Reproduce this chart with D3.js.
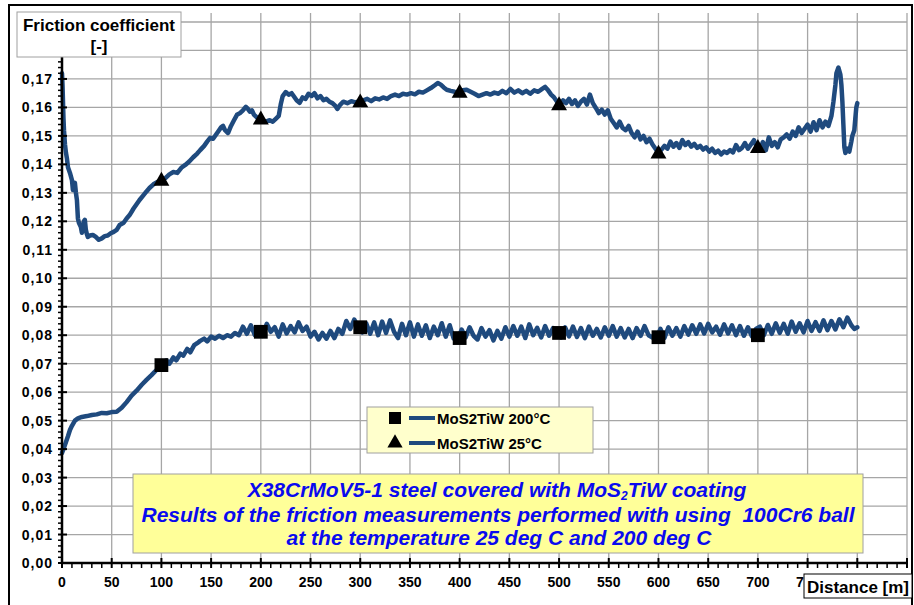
<!DOCTYPE html>
<html><head><meta charset="utf-8">
<script src="https://cdn.jsdelivr.net/npm/d3@7/dist/d3.min.js"></script>
<style>html,body{margin:0;padding:0;background:#fff;}svg{display:block;}</style>
</head><body><svg id="c" width="914" height="605"></svg>
<script>
// ---- data ----
const xTicks = [0,50,100,150,200,250,300,350,400,450,500,550,600,650,700,750,800,850];
const xTickLabels = [0,50,100,150,200,250,300,350,400,450,500,550,600,650,700,750];
const yTicks = [0,0.01,0.02,0.03,0.04,0.05,0.06,0.07,0.08,0.09,0.10,0.11,0.12,0.13,0.14,0.15,0.16,0.17,0.18,0.19];
const yTickLabels = [0,0.01,0.02,0.03,0.04,0.05,0.06,0.07,0.08,0.09,0.10,0.11,0.12,0.13,0.14,0.15,0.16,0.17];
const seriesNames = ["MoS2TiW 200°C","MoS2TiW 25°C"];
const markerDist = [100,200,300,400,500,600,700];
const marker200 = [0.0695,0.0812,0.0828,0.0790,0.0808,0.0793,0.0800];
const marker25 = [0.1345,0.1560,0.1620,0.1654,0.1610,0.1440,0.1460];
const dist200 = [0,2,4,6,8,10,13,16,20,25,30,35,40,45,50,55,60,65,70,75,80,85,90,95,100,105,108,112,115,119,122,126,129,133,136,139,143,146,150,154,158,162,166,170,174,178,182,186,190,194,198,202,206,210,214,218,222,226,230,234,238,242,246,250,254,258,262,266,270,274,278,282,286,290,294,298,302,306,310,314,318,322,326,330,334,338,342,346,350,354,358,362,366,370,374,378,382,386,390,394,398,402,406,410,414,418,422,426,430,434,438,442,446,450,454,458,462,466,470,474,478,482,486,490,494,498,502,506,510,514,518,522,526,530,534,538,542,546,550,554,558,562,566,570,574,578,582,586,590,594,598,602,606,610,614,618,622,626,630,634,638,642,646,650,654,658,662,666,670,674,678,682,686,690,694,698,702,706,710,714,718,722,726,730,734,738,742,746,750,754,758,762,766,770,774,778,782,786,790,794,797,800];
const fric200 = [0.0386,0.0405,0.0425,0.0445,0.0467,0.0482,0.0500,0.0508,0.0513,0.0516,0.0520,0.0522,0.0527,0.0526,0.0530,0.0531,0.0545,0.0565,0.0588,0.0605,0.0625,0.0643,0.0660,0.0678,0.0697,0.0712,0.0700,0.0722,0.0712,0.0735,0.0728,0.0752,0.0740,0.0765,0.0772,0.0780,0.0788,0.0778,0.0795,0.0788,0.0798,0.0790,0.0800,0.0795,0.0808,0.0800,
  0.0830,0.0805,0.0835,0.0800,0.0820,0.0798,0.0840,0.0812,0.0828,0.0795,0.0838,0.0806,0.0832,0.0810,0.0845,0.0815,0.0830,0.0795,0.0812,0.0785,0.0808,0.0788,0.0815,0.0790,0.0822,0.0805,0.0850,0.0822,0.0855,0.0828,0.0810,0.0842,0.0805,0.0845,0.0800,0.0848,0.0808,0.0852,0.0812,0.0790,0.0840,0.0800,0.0845,0.0795,0.0838,0.0798,0.0835,0.0790,0.0830,0.0800,0.0842,0.0795,0.0835,0.0788,0.0785,0.0820,0.0792,0.0828,0.0798,0.0785,0.0825,0.0795,0.0818,0.0782,0.0815,0.0788,0.0828,0.0795,0.0832,0.0798,0.0830,0.0790,0.0838,0.0800,0.0826,0.0792,0.0832,0.0798,0.0825,0.0800,0.0792,0.0828,0.0796,0.0830,0.0794,0.0825,0.0790,0.0830,0.0798,0.0822,0.0792,0.0828,0.0798,0.0832,0.0795,0.0825,0.0792,0.0822,0.0790,0.0825,0.0798,0.0832,0.0800,0.0792,0.0788,0.0822,0.0790,0.0828,0.0798,0.0825,0.0795,0.0832,0.0802,0.0835,0.0805,0.0838,0.0806,0.0840,0.0810,0.0830,0.0802,0.0838,0.0806,0.0835,0.0800,0.0832,0.0798,0.0828,0.0796,0.0822,0.0830,0.0800,0.0836,0.0805,0.0842,0.0808,0.0840,0.0805,0.0848,0.0812,0.0842,0.0810,0.0850,0.0815,0.0846,0.0815,0.0852,0.0818,0.0850,0.0820,0.0856,0.0828,0.0862,0.0835,0.0822,0.0828];
const dist25 = [0,0.5,1,1.5,2,3,4,5,6,8,10,11,12,13,14,15,16,17,19,20,21,22,23,24,25,26,28,31,34,37,40,43,46,49,52,55,58,62,65,68,72,75,78,82,85,88,92,96,100,104,108,112,116,120,124,128,132,136,139,143,146,149,152,155,158,160,162,164,167,170,173,176,179,182,185,187,189,191,193,196,199,202,205,209,212,215,218,220,222,225,228,231,233,236,239,242,245,248,251,254,257,260,263,266,269,272,275,277,280,283,287,291,295,299,303,307,311,315,319,323,327,331,335,339,343,347,351,355,359,363,367,371,375,378,381,384,387,391,395,399,403,407,411,415,419,423,427,431,435,439,443,447,451,455,459,463,467,471,475,479,483,486,489,492,495,498,501,504,507,510,513,516,519,522,525,528,531,534,537,540,543,546,549,552,555,558,561,564,567,570,573,576,579,582,585,588,591,594,597,600,603,606,609,612,615,618,621,624,627,630,633,636,639,642,645,648,651,654,657,660,663,666,669,672,675,678,681,684,687,690,693,696,699,702,705,708,711,714,717,720,723,726,729,732,735,738,741,744,747,750,753,756,759,762,765,768,771,774,776,778,779,781,783,784,785,786,787,788,790,792,794,795,797,798,799,800];
const fric25 = [0.1720,0.1680,0.1620,0.1560,0.1520,0.1470,0.1440,0.1420,0.1390,0.1370,0.1345,0.1310,0.1330,0.1335,0.1300,0.1275,0.1210,0.1195,0.1180,0.1160,0.1175,0.1200,0.1205,0.1170,0.1155,0.1145,0.1150,0.1152,0.1145,0.1135,0.1140,0.1148,0.1150,0.1158,0.1163,0.1170,0.1187,0.1195,0.1210,0.1222,0.1245,0.1260,0.1275,0.1292,0.1305,0.1317,0.1330,0.1338,0.1345,0.1352,0.1365,0.1373,0.1370,0.1388,0.1398,0.1410,0.1425,0.1438,0.1450,0.1465,0.1480,0.1493,0.1490,0.1505,0.1520,0.1530,0.1535,0.1520,0.1510,0.1535,0.1555,0.1574,0.1580,0.1590,0.1602,0.1595,0.1585,0.1590,0.1575,0.1565,0.1560,0.1555,0.1550,0.1555,0.1550,0.1560,0.1570,0.1610,0.1640,0.1654,0.1645,0.1650,0.1640,0.1625,0.1616,0.1635,0.1630,0.1648,0.1640,0.1650,0.1632,0.1640,0.1625,0.1630,0.1620,0.1615,0.1605,0.1595,0.1610,0.1620,0.1615,0.1622,0.1618,0.1620,0.1625,0.1630,0.1622,0.1632,0.1628,0.1635,0.1630,0.1640,0.1645,0.1640,0.1648,0.1645,0.1650,0.1646,0.1655,0.1652,0.1660,0.1668,0.1678,0.1686,0.1680,0.1670,0.1662,0.1658,0.1655,0.1654,0.1660,0.1662,0.1655,0.1648,0.1640,0.1645,0.1650,0.1645,0.1652,0.1648,0.1658,0.1650,0.1665,0.1652,0.1660,0.1650,0.1658,0.1648,0.1660,0.1655,0.1665,0.1672,0.1660,0.1645,0.1635,0.1620,0.1612,0.1625,0.1615,0.1630,0.1612,0.1625,0.1605,0.1620,0.1630,0.1610,0.1645,0.1615,0.1598,0.1580,0.1592,0.1575,0.1590,0.1560,0.1545,0.1530,0.1550,0.1528,0.1520,0.1535,0.1510,0.1495,0.1515,0.1488,0.1500,0.1478,0.1490,0.1470,0.1455,0.1440,0.1452,0.1465,0.1455,0.1480,0.1462,0.1475,0.1458,0.1485,0.1468,0.1478,0.1462,0.1472,0.1458,0.1465,0.1452,0.1460,0.1445,0.1455,0.1440,0.1448,0.1435,0.1445,0.1440,0.1450,0.1442,0.1468,0.1450,0.1458,0.1475,0.1455,0.1470,0.1485,0.1460,0.1450,0.1478,0.1450,0.1495,0.1465,0.1478,0.1460,0.1488,0.1495,0.1505,0.1490,0.1515,0.1500,0.1530,0.1510,0.1525,0.1540,0.1515,0.1548,0.1520,0.1555,0.1530,0.1550,0.1535,0.1570,0.1620,0.1680,0.1720,0.1740,0.1715,0.1680,0.1620,0.1540,0.1460,0.1440,0.1455,0.1445,0.1480,0.1500,0.1520,0.1560,0.1600,0.1615];

// ---- layout ----
const svg = d3.select("#c");
const FONT = "'Liberation Sans', Arial, sans-serif";
const x = d3.scaleLinear().domain([0,850]).range([62,907]);
const y = d3.scaleLinear().domain([0,0.19]).range([563,22]);
const plotTop = 13;
const lineColor = "#1f4a7e";

// outer border
svg.append("rect").attr("x",9).attr("y",5).attr("width",903).attr("height",612)
  .attr("fill","#fff").attr("stroke","#000").attr("stroke-width",2);

// gridlines
const grid = svg.append("g").attr("stroke","#a6a6a6").attr("stroke-width",1.3);
xTicks.slice(1).forEach(t => grid.append("line").attr("x1",x(t)).attr("x2",x(t)).attr("y1",plotTop).attr("y2",y(0)));
yTicks.slice(1).forEach(t => grid.append("line").attr("x1",x(0)).attr("x2",x(850)).attr("y1",y(t)).attr("y2",y(t)));

// lines
const line = d3.line().x(d=>x(d[0])).y(d=>y(d[1]));
const s200 = dist200.map((d,i)=>[d,fric200[i]]);
const s25 = dist25.map((d,i)=>[d,fric25[i]]);
[s200,s25].forEach(s => svg.append("path").datum(s).attr("d",line)
  .attr("fill","none").attr("stroke",lineColor).attr("stroke-width",4.5)
  .attr("stroke-linejoin","round").attr("stroke-linecap","round"));

// markers
const sq = d3.symbol().type(d3.symbolSquare).size(190);
const tri = d3.symbol().type(d3.symbolTriangle).size(110);
markerDist.forEach((d,i)=>{
  svg.append("path").attr("d",sq()).attr("transform",`translate(${x(d)},${y(marker200[i])})`).attr("fill","#000");
  svg.append("path").attr("d",tri()).attr("transform",`translate(${x(d)},${y(marker25[i])+1})`).attr("fill","#000");
});

// axes
const ax = svg.append("g").attr("stroke","#000");
ax.append("line").attr("x1",x(0)).attr("x2",x(0)).attr("y1",y(0)).attr("y2",plotTop).attr("stroke-width",2.5);
ax.append("line").attr("x1",x(0)-1).attr("x2",x(850)+1).attr("y1",y(0)).attr("y2",y(0)).attr("stroke-width",2.5);
d3.range(0,851,10).forEach(t=>{
  const major = t%50===0;
  ax.append("line").attr("x1",x(t)).attr("x2",x(t)).attr("y1",major?y(0)-5:y(0)).attr("y2",y(0)+5).attr("stroke-width",major?2:1.5);
});
d3.range(0,191,2).forEach(k=>{
  const t=k/1000, major=k%10===0;
  ax.append("line").attr("x1",x(0)-4).attr("x2",major?x(0)+5:x(0)).attr("y1",y(t)).attr("y2",y(t)).attr("stroke-width",major?2:1.5);
});

// tick labels
const fmt = v => d3.format(".2f")(v).replace(".",",");
svg.append("g").selectAll("text").data(yTickLabels).join("text")
  .attr("x",53).attr("y",d=>y(d)+5).attr("text-anchor","end")
  .attr("font-family",FONT).attr("font-weight","bold").attr("font-size",14).attr("letter-spacing",1)
  .text(fmt);
svg.append("g").selectAll("text").data(xTickLabels).join("text")
  .attr("x",d=>x(d)).attr("y",587).attr("text-anchor","middle")
  .attr("font-family",FONT).attr("font-weight","bold").attr("font-size",14)
  .text(d=>d);

// legend
const lg = svg.append("g");
lg.append("rect").attr("x",367).attr("y",407).attr("width",226).attr("height",46)
  .attr("fill","#ffffcc").attr("stroke","#a0a0a0").attr("stroke-width",1);
const legRows = [418,443];
legRows.forEach((ry,i)=>{
  lg.append("path").attr("d", (i===0?d3.symbol().type(d3.symbolSquare).size(144):d3.symbol().type(d3.symbolTriangle).size(100))())
    .attr("transform",`translate(395,${ry})`).attr("fill","#000");
  lg.append("line").attr("x1",409).attr("x2",435).attr("y1",ry).attr("y2",ry).attr("stroke",lineColor).attr("stroke-width",4);
  lg.append("text").attr("x",437).attr("y",ry+6).attr("font-family",FONT).attr("font-weight","bold").attr("font-size",15)
    .text(seriesNames[i]);
});

// annotation box
const an = svg.append("g");
an.append("rect").attr("x",133).attr("y",474).attr("width",730).attr("height",79)
  .attr("fill","#ffff99").attr("stroke","#a0a0a0").attr("stroke-width",1);
const ta = {"font-family":FONT,"font-weight":"bold","font-style":"italic","font-size":21,"fill":"#0a0aee","text-anchor":"middle"};
const t1 = an.append("text").attr("x",497).attr("y",497);
Object.entries(ta).forEach(([k,v])=>t1.attr(k,v));
t1.append("tspan").text("X38CrMoV5-1 steel covered with MoS");
t1.append("tspan").attr("dy",3).attr("font-size",12).text("2");
t1.append("tspan").attr("dy",-3).text("TiW coating");
const t2 = an.append("text").attr("x",498).attr("y",522);
Object.entries(ta).forEach(([k,v])=>t2.attr(k,v));
t2.attr("xml:space","preserve").style("white-space","pre").text("Results of the friction measurements performed with using  100Cr6 ball");
const t3 = an.append("text").attr("x",499).attr("y",545);
Object.entries(ta).forEach(([k,v])=>t3.attr(k,v));
t3.text("at the temperature 25 deg C and 200 deg C");

// y-axis title box
svg.append("rect").attr("x",17).attr("y",12).attr("width",164).attr("height",45)
  .attr("fill","#fff").attr("stroke","#a0a0a0").attr("stroke-width",1);
svg.append("text").attr("x",99).attr("y",31).attr("text-anchor","middle")
  .attr("font-family",FONT).attr("font-weight","bold").attr("font-size",17).text("Friction coefficient");
svg.append("text").attr("x",99).attr("y",52).attr("text-anchor","middle")
  .attr("font-family",FONT).attr("font-weight","bold").attr("font-size",17).text("[-]");

// x-axis title box
svg.append("rect").attr("x",804).attr("y",574).attr("width",108).attr("height",24)
  .attr("fill","#fff").attr("stroke","#000").attr("stroke-width",1);
svg.append("text").attr("x",858).attr("y",593).attr("text-anchor","middle")
  .attr("font-family",FONT).attr("font-weight","bold").attr("font-size",17).text("Distance [m]");
</script></body></html>
